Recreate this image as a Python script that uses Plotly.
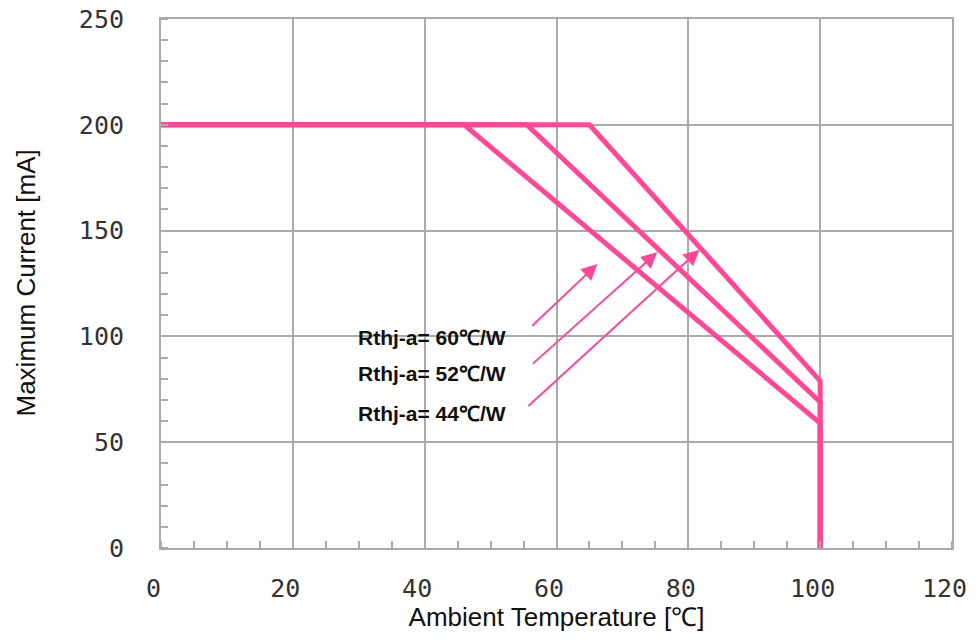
import plotly.graph_objects as go

# Derating curves (Ambient temperature [°C] vs Maximum current [mA])
temp_60 = [0, 46, 100, 100]
curr_60 = [200, 200, 59, 0]
temp_52 = [0, 55.5, 100, 100]
curr_52 = [200, 200, 69, 0]
temp_44 = [0, 65, 100, 100]
curr_44 = [200, 200, 79, 0]

labels = ["Rthj-a= 60℃/W", "Rthj-a= 52℃/W", "Rthj-a= 44℃/W"]
label_x = [29.6, 29.6, 29.6]
label_y = [99.7, 82.5, 63.8]
arrow_tail_x = [56.1, 56.2, 55.5]
arrow_tail_y = [104.4, 86.5, 66.5]
arrow_head_x = [66.2, 75.3, 81.7]
arrow_head_y = [134.2, 139.8, 141.0]

x_ticks = [0, 20, 40, 60, 80, 100, 120]
y_ticks = [0, 50, 100, 150, 200, 250]

PINK = "#FF4893"
GRID = "#AAAAAA"
TITLE_FONT = dict(family="Liberation Sans, Arial", size=26, color="#111111")

fig = go.Figure()
for tx, cy in [(temp_60, curr_60), (temp_52, curr_52), (temp_44, curr_44)]:
    fig.add_trace(go.Scatter(x=tx, y=cy, mode="lines",
                             line=dict(color=PINK, width=5),
                             showlegend=False, hoverinfo="skip"))

for i in range(3):
    fig.add_annotation(x=label_x[i], y=label_y[i], text="<b>" + labels[i] + "</b>",
                       showarrow=False, xanchor="left", yanchor="middle",
                       font=dict(family="Liberation Sans, Arial", size=21, color="#111111"))
    fig.add_annotation(x=arrow_head_x[i], y=arrow_head_y[i],
                       ax=arrow_tail_x[i], ay=arrow_tail_y[i],
                       xref="x", yref="y", axref="x", ayref="y",
                       text="", showarrow=True, arrowhead=2, arrowsize=1.6,
                       arrowwidth=2, arrowcolor=PINK)

# y-axis title as a rotated text placed left of the tick labels
fig.add_annotation(text="Maximum Current [mA]", xref="paper", yref="paper",
                   x=0, y=0.5, xanchor="center", yanchor="middle", xshift=-136,
                   textangle=-90, showarrow=False, font=TITLE_FONT)

tickfont = dict(family="DejaVu Sans Mono", size=25, color="#333333")
fig.update_xaxes(range=[0, 120], tickvals=x_ticks,
                 ticktext=[str(v) + "\u00a0" for v in x_ticks],
                 showgrid=True, gridcolor=GRID, gridwidth=2,
                 showline=True, linecolor=GRID, linewidth=2, mirror=True,
                 zeroline=False, ticks="", tickfont=tickfont, ticklabelstandoff=17,
                 automargin=False, ticklabeloverflow="allow",
                 minor=dict(dtick=5, ticks="inside", ticklen=7, tickcolor=GRID,
                            tickwidth=2, showgrid=False),
                 title=dict(text="Ambient Temperature [℃]", standoff=14, font=TITLE_FONT))
fig.update_yaxes(range=[0, 250], tickvals=y_ticks, ticktext=[str(v) for v in y_ticks],
                 showgrid=True, gridcolor=GRID, gridwidth=2,
                 showline=True, linecolor=GRID, linewidth=2, mirror=True,
                 zeroline=False, ticks="", tickfont=tickfont, ticklabelstandoff=30,
                 automargin=False, ticklabeloverflow="allow",
                 minor=dict(dtick=10, ticks="inside", ticklen=7, tickcolor=GRID,
                            tickwidth=2, showgrid=False))

# page body adds an 8px margin, so the figure is sized to fill the 976x640 window
fig.update_layout(width=960, height=624, plot_bgcolor="white", paper_bgcolor="white",
                  margin=dict(l=153, r=16, t=11, b=84), showlegend=False)

fig.write_html("out.html")
